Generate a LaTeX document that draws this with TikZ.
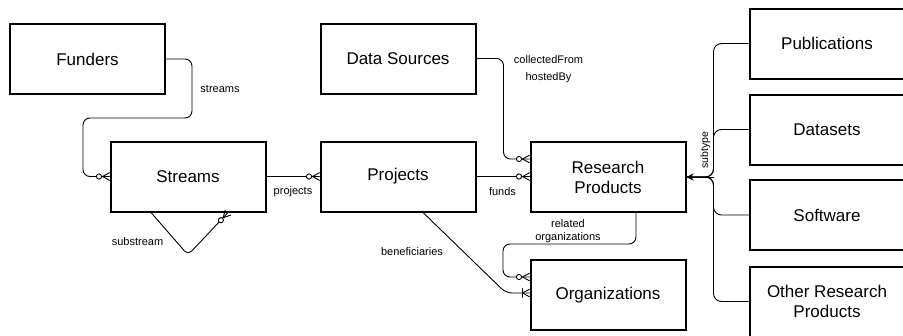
\documentclass[tikz,border=0pt]{standalone}
\usepackage{fontspec}
\setmainfont{Liberation Sans}
\usetikzlibrary{arrows.meta,calc}

\tikzset{
  entity/.style={draw, line width=2pt, minimum width=155pt, minimum height=70pt,
    inner sep=2pt, align=center, font=\fontsize{17}{20}\selectfont},
  conn/.style={line width=0.9pt, line cap=round, line join=round},
  lbl/.style={font=\fontsize{11}{12.5}\selectfont, inner sep=0pt, align=center},
  % zero-or-many crow's foot, drawn at the entity border, line arriving along +x
  zmany/.pic={
    \draw[conn] (-7,0) -- (0,-3.8) (-7,0) -- (0,3.8);
    \draw[conn, fill=white] (-10.5,0) circle (2.6pt);
  },
  % one-or-many crow's foot
  omany/.pic={
    \draw[conn] (-7,0) -- (0,-3.8) (-7,0) -- (0,3.8) (-7,-4.5) -- (-7,4.5);
  }
}

\begin{document}
\begin{tikzpicture}[x=1pt, y=-1pt]
  \useasboundingbox (0,0) rectangle (903,335);
  \clip (0,0) rectangle (903,335);

  % entities
  \node[entity] (fund)    at (87.5,59)   {Funders};
  \node[entity] (streams) at (188,176.5) {Streams};
  \node[entity] (ds)      at (398,58.5)  {Data Sources};
  \node[entity] (proj)    at (398,176.5) {Projects};
  \node[entity] (rp)      at (608,177)   {Research\\Products};
  \node[entity] (org)     at (608,295)   {Organizations};
  \node[entity] (pub)     at (827,43.5)  {Publications};
  \node[entity] (dset)    at (827,129.5) {Datasets};
  \node[entity] (soft)    at (827,215)   {Software};
  \node[entity] (orp)     at (827,301.5) {Other Research\\Products};

  % Funders -> Streams
  \draw[conn, rounded corners=7pt] (fund.east) -- ++(26,0) |- ++(-109,59) |- (streams.west);
  \path (streams.west) pic {zmany};
  \node[lbl] at (220,89) {streams};

  % Streams -> Projects
  \draw[conn] (streams.east) -- (proj.west);
  \path (proj.west) pic {zmany};
  \node[lbl] at (293,192) {projects};

  % substream (self relation)
  \draw[conn, rounded corners=5pt] ([xshift=-37pt]streams.south) -- (188,255)
    -- ([xshift=40pt]streams.south);
  \path ([xshift=40pt]streams.south) pic[rotate=47] {zmany};
  \node[lbl] at (137.5,242) {substream};

  % Projects -> Research Products
  \draw[conn] (proj.east) -- (proj.east -| rp.west);
  \path (proj.east -| rp.west) pic {zmany};
  \node[lbl] at (502.5,192) {funds};

  % Data Sources -> Research Products
  \draw[conn, rounded corners=7pt] (ds.east) -- ++(27,0) |- ([yshift=18pt]rp.west);
  \path ([yshift=18pt]rp.west) pic {zmany};
  \node[lbl] at (548.5,60) {collectedFrom};
  \node[lbl] at (548.5,78) {hostedBy};

  % Research Products -> Organizations
  \draw[conn, rounded corners=7pt] ([xshift=28pt]rp.south) |- (503,244)
    |- ([yshift=18pt]org.west);
  \path ([yshift=18pt]org.west) pic {zmany};
  \node[lbl] at (568,231) {related\\organizations};

  % Projects -> Organizations
  \draw[conn, rounded corners=6pt] ([xshift=25pt]proj.south) -- (506,293)
    -- ([yshift=2pt]org.west);
  \path ([yshift=2pt]org.west) pic {omany};
  \node[lbl] at (412,252) {beneficiaries};

  % subtypes of Research Products
  \coordinate (bus) at ([xshift=27pt]rp.east);
  \foreach \s in {pub,dset,soft,orp}
    \draw[conn, rounded corners=8pt] (\s.west) -| (bus) -- (rp.east);
  \draw[conn, -{Stealth[length=7pt,width=7pt]}] (bus) -- (rp.east);
  \node[lbl, rotate=90, font=\fontsize{10.5}{12}\selectfont] at (705.5,150) {subtype};
\end{tikzpicture}
\end{document}
